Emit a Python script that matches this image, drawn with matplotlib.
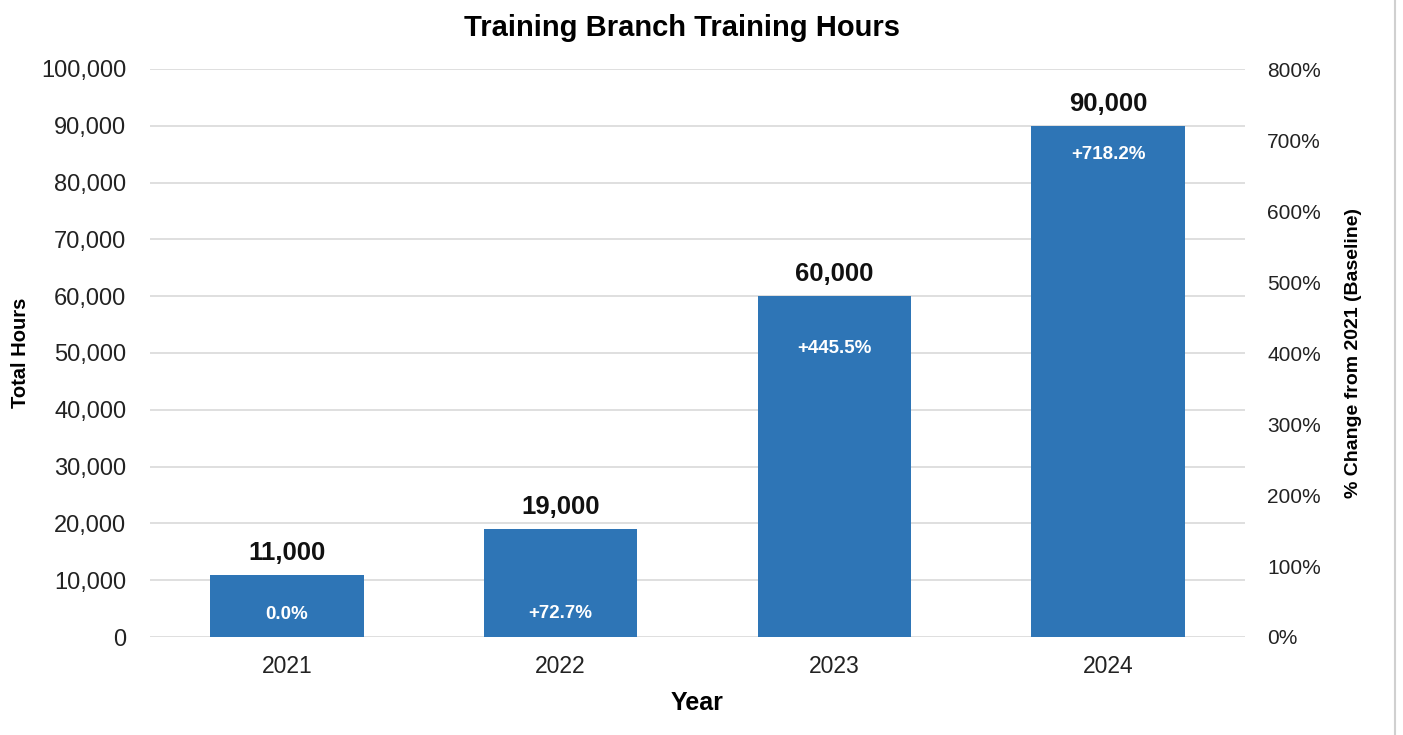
import numpy as np
import matplotlib
matplotlib.use("Agg")
from matplotlib import pyplot as plt
from matplotlib.lines import Line2D
from matplotlib.ticker import FuncFormatter

plt.rcParams['font.family'] = ['Liberation Sans', 'DejaVu Sans']

# data
years = ["2021", "2022", "2023", "2024"]
hours = [11000, 19000, 60000, 90000]
pct_change = [0.0, 72.7, 445.5, 718.2]
pct_labels = ["0.0%", "+72.7%", "+445.5%", "+718.2%"]

bar_color = "#2E75B6"
grid_color = "#D9D9D9"
text_color = "#222222"

fig = plt.figure(figsize=(14.03, 7.35), dpi=100)
ax = fig.add_axes([150/1403, 98/735, 1095/1403, 568/735])
ax2 = ax.twinx()

x = np.arange(len(years))
ax.bar(x, hours, width=0.56, color=bar_color, zorder=3)

ax.set_xlim(-0.5, len(years) - 0.5)
ax.set_ylim(0, 100000)
ax.set_yticks(np.arange(0, 100001, 10000))
ax.yaxis.set_major_formatter(FuncFormatter(lambda v, p: f"{int(v):,}"))
ax.set_xticks(x)
ax.set_xticklabels(years)
ax.grid(axis='y', color=grid_color, linewidth=1.2, zorder=0)
ax.set_axisbelow(True)

ax2.set_ylim(0, 800)
ax2.set_yticks(np.arange(0, 801, 100))
ax2.yaxis.set_major_formatter(FuncFormatter(lambda v, p: f"{int(v)}%"))

for a in (ax, ax2):
    for s in a.spines.values():
        s.set_visible(False)
    a.tick_params(length=0, colors=text_color)

ax.tick_params(axis='y', labelsize=17, pad=17)
ax.tick_params(axis='x', labelsize=16.5, pad=13)
ax2.tick_params(axis='y', labelsize=15, pad=16)

ax.set_title("Training Branch Training Hours", fontsize=21, fontweight='bold', pad=24, x=0.486)
ax.set_xlabel("Year", fontsize=18, fontweight='bold', labelpad=9)
ax.set_ylabel("Total Hours", fontsize=14.5, fontweight='bold', labelpad=8)
ax2.set_ylabel("% Change from 2021 (Baseline)", fontsize=14, fontweight='bold', labelpad=17)

# value labels on top of bars
for xi, h in zip(x, hours):
    ax.annotate(f"{h:,}", (xi, h), xytext=(0, 7), textcoords='offset points',
                ha='center', va='bottom', fontsize=18.5, fontweight='bold', color='#111111')

# percent labels inside bars
for xi, p, lab in zip(x, pct_change, pct_labels):
    dy = 16 if p < 50 else -20
    ax2.annotate(lab, (xi, p), xytext=(0, dy), textcoords='offset points',
                 ha='center', va='center', fontsize=13.5, fontweight='bold', color='white', zorder=5)

fig.add_artist(Line2D([1395/1403, 1395/1403], [0, 1], color="#D0D0D0", linewidth=1.5))

fig.savefig("out.png", dpi=100)
